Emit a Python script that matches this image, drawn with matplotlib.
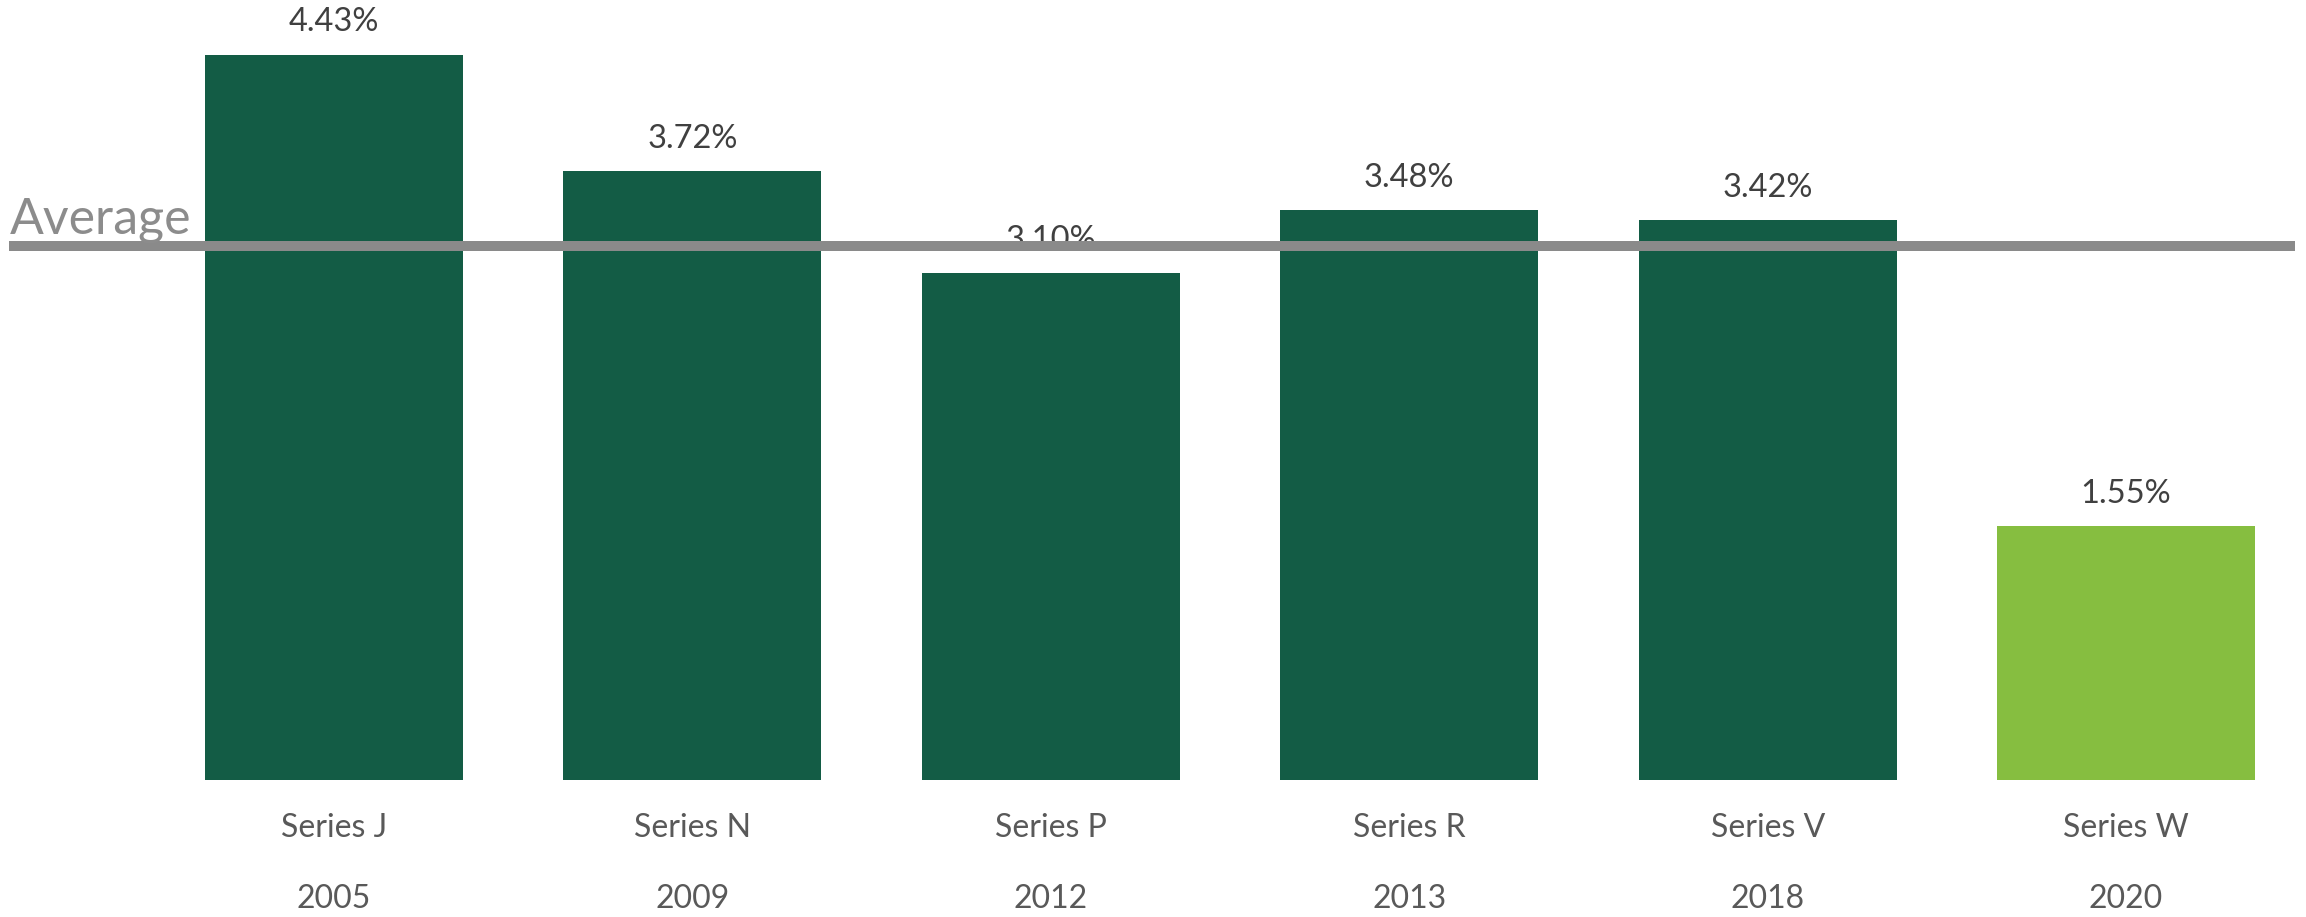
import matplotlib
matplotlib.use('Agg')
from matplotlib import pyplot as plt

# bar data
series = ['Series J', 'Series N', 'Series P', 'Series R', 'Series V', 'Series W']
years = ['2005', '2009', '2012', '2013', '2018', '2020']
values = [4.43, 3.72, 3.10, 3.48, 3.42, 1.55]
average = 3.26

dark_green = '#135c45'
light_green = '#86be40'
colors = [dark_green] * 5 + [light_green]

fig = plt.figure(figsize=(23.06, 9.17), dpi=100)
ax = fig.add_axes([0, 0, 1, 1])
ax.set_xlim(-0.932, 5.502)
ax.set_ylim(-0.837, 4.766)
ax.axis('off')

x = list(range(len(values)))
ax.bar(x, values, width=0.72, color=colors, zorder=1)

# value labels above bars
for xi, v in zip(x, values):
    ax.annotate(f'{v:.2f}%', (xi, v), xytext=(0, 23.5), textcoords='offset points',
                ha='center', va='center', fontsize=23.5, color='#404040', family='Lato', zorder=2)

# category + year labels
for xi, s, yr in zip(x, series, years):
    ax.text(xi, -0.293, s, ha='center', va='center', fontsize=23, color='#595959', family='Lato')
    ax.text(xi, -0.727, yr, ha='center', va='center', fontsize=23, color='#595959', family='Lato')

# average line over everything
ax.plot([-0.907, 5.472], [average, average], color='#8a8a8a', linewidth=7.2,
        solid_capstyle='butt', zorder=3)
ax.text(-0.905, 3.342, 'Average', ha='left', va='baseline', fontsize=36,
        color='#8c8c8c', family='Lato', fontweight='normal', zorder=3)

fig.savefig('out.png', dpi=100)
